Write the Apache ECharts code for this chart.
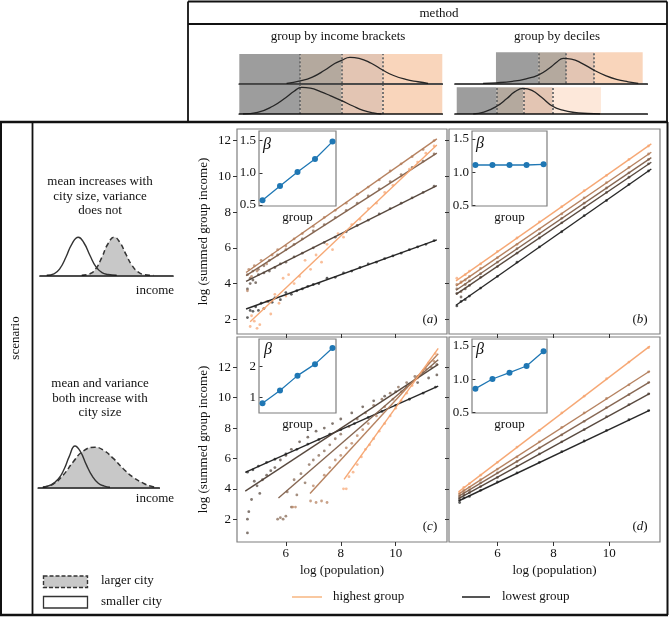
<!DOCTYPE html>
<html><head><meta charset="utf-8">
<script src="https://cdn.jsdelivr.net/npm/echarts@6/dist/echarts.min.js"></script>
<style>html,body{margin:0;padding:0;background:#fff}#c{width:669px;height:617px}</style>
</head><body><div id="c"></div><script>
const FONT = 'Liberation Serif';
const groupColors = ['#1c1c1c','#4f3f35','#7f5f4a','#b27b57','#f6a36e'];
const groupLabels = ['highest group','lowest group'];

// ---- header illustration data ----
const bracketEdges = [0, 3.0, 5.04, 7.06, 10];
const bracketDotted = [3.0, 5.04, 7.06];
const decileTopEdges = [2.13, 4.33, 5.77, 7.24, 9.76];
const decileTopDotted = [4.33, 5.77, 7.24];
const decileBotEdges = [0.09, 2.17, 3.55, 5.08, 7.59];
const decileBotDotted = [2.17, 3.55, 5.08];
const bandColors = ['#9d9d9d','#b4a99e','#e3c5b3','#f9d5bb'];
const bandColorsLight = ['#9d9d9d','#b4a99e','#e3c5b3','#fde8da'];
const bracketLarge = [[2.33,0],[3.0,0.09],[3.6,0.24],[4.2,0.5],[4.7,0.76],[5.04,0.88],[5.45,1.0],[5.9,0.96],[6.5,0.77],[7.06,0.51],[7.6,0.3],[8.2,0.15],[8.8,0.06],[9.3,0]];
const bracketSmall = [[0.18,0],[0.9,0.06],[1.67,0.3],[2.3,0.62],[2.7,0.85],[3.07,1.0],[3.5,0.97],[4.0,0.84],[4.5,0.68],[5.04,0.5],[5.6,0.3],[6.1,0.14],[6.6,0.04],[7.0,0]];
const decileLarge = [[1.46,0],[2.13,0.02],[3.0,0.08],[3.7,0.18],[4.33,0.33],[4.9,0.6],[5.3,0.85],[5.63,1.0],[6.05,0.97],[6.6,0.8],[7.24,0.52],[7.8,0.32],[8.4,0.16],[9.0,0.06],[9.53,0]];
const decileSmall = [[0.95,0],[1.5,0.07],[2.17,0.3],[2.7,0.6],[3.1,0.86],[3.55,1.0],[4.0,0.92],[4.5,0.65],[5.08,0.3],[5.6,0.15],[6.2,0.06],[6.9,0.02],[7.54,0]];

// ---- scenario illustration data ----
const sc1Small = [[6.7,0],[14,0.04],[20,0.18],[26,0.48],[32,0.83],[38.3,1.0],[44,0.85],[50,0.52],[56,0.22],[62,0.07],[68,0.02],[76.7,0]];
const sc1Large = [[41.7,0],[50,0.04],[56,0.18],[62,0.48],[68,0.83],[74.3,1.0],[80,0.86],[86,0.55],[92,0.26],[98,0.09],[104,0.02],[113.3,0]];
const sc2Small = [[4.4,0],[12,0.05],[20,0.2],[26,0.45],[31,0.75],[36.7,1.0],[42,0.87],[48,0.55],[54,0.27],[60,0.1],[66,0.03],[71.7,0]];
const sc2Large = [[4.7,0],[15,0.08],[25,0.3],[35,0.62],[45,0.88],[56.7,0.97],[65,0.9],[75,0.7],[85,0.45],[95,0.24],[105,0.1],[112,0.03],[118.4,0]];

// ---- tick labels ----
const xTicks = [6, 8, 10];
const yTicks = [2, 4, 6, 8, 10, 12];

// ---- scaling exponents (insets) ----
const betaA = [0.573, 0.795, 1.013, 1.215, 1.485];
const betaB = [1.11, 1.11, 1.11, 1.11, 1.12];
const betaC = [0.82, 1.23, 1.71, 2.08, 2.6];
const betaD = [0.86, 1.005, 1.10, 1.20, 1.42];

// ---- fitted lines per group (panel a..d) ----
const fitA = [[[4.55,2.58],[11.5,6.45]],[[4.55,4.13],[11.5,9.48]],[[4.55,4.45],[11.5,11.3]],[[4.55,4.62],[11.5,12.1]],[[4.7,1.87],[11.5,11.75]]];
const fitB = [[[4.52,2.79],[11.5,10.41]],[[4.52,3.4],[11.5,10.79]],[[4.52,3.63],[11.5,11.05]],[[4.52,3.87],[11.5,11.35]],[[4.52,4.15],[11.5,11.82]]];
const fitC = [[[4.52,5.08],[11.55,10.77]],[[4.52,3.85],[11.55,12.2]],[[5.73,3.4],[11.55,12.5]],[[6.88,3.69],[11.55,12.9]],[[8.12,4.62],[11.55,13.25]]];
const fitD = [[[4.61,3.2],[11.45,9.19]],[[4.61,3.36],[11.45,10.29]],[[4.61,3.5],[11.45,11.05]],[[4.61,3.65],[11.45,11.76]],[[4.61,3.8],[11.45,13.4]]];

// ---- city points per group ----
const ptsA1 = [[4.6,2.1],[4.7,2.5],[4.8,2.45],[4.9,2.7],[5.0,2.5],[5.1,2.9],[5.2,2.6],[5.35,3.0],[5.5,2.95],[5.6,3.2],[5.8,3.1],[6.0,3.5],[6.2,3.4],[6.4,3.6],[6.6,3.7],[6.8,3.85],[7.0,3.95],[7.2,4.0],[7.5,4.3],[7.8,4.35],[8.1,4.6],[8.4,4.7],[8.7,4.9],[9.0,5.1],[9.3,5.2],[9.6,5.4],[9.9,5.55],[10.2,5.7],[10.5,5.9],[10.8,6.05],[11.1,6.2],[11.4,6.4]];
const ptsA2 = [[4.6,3.7],[4.7,4.0],[4.8,4.2],[4.9,4.05],[5.0,4.5],[5.2,4.6],[5.4,4.7],[5.6,4.9],[5.8,5.1],[6.0,5.2],[6.3,5.5],[6.6,5.7],[7.0,6.0],[7.4,6.3],[7.8,6.6],[8.2,6.9],[8.6,7.25],[9.0,7.55],[9.4,7.9],[9.8,8.2],[10.2,8.5],[10.6,8.8],[11.0,9.1],[11.4,9.45]];
const ptsA3 = [[4.6,4.5],[4.7,4.3],[4.8,4.7],[5.0,4.8],[5.2,5.0],[5.4,5.3],[5.7,5.6],[6.0,5.9],[6.3,6.2],[6.6,6.5],[7.0,6.95],[7.4,7.3],[7.8,7.7],[8.2,8.1],[8.6,8.5],[9.0,8.9],[9.4,9.3],[9.8,9.7],[10.2,10.1],[10.6,10.5],[11.0,10.85],[11.4,11.25]];
const ptsA4 = [[4.6,3.6],[4.65,4.8],[4.75,4.4],[4.85,5.0],[4.95,4.7],[5.1,5.3],[5.3,5.1],[5.5,5.6],[5.7,5.9],[6.0,6.1],[6.3,6.5],[6.6,6.8],[7.0,7.2],[7.4,7.7],[7.8,8.1],[8.2,8.5],[8.6,9.0],[9.0,9.4],[9.4,9.8],[9.8,10.3],[10.2,10.7],[10.6,11.1],[11.0,11.5],[11.4,12.0]];
const ptsA5 = [[4.7,1.6],[4.75,2.2],[4.85,1.9],[4.95,1.5],[5.05,1.7],[5.2,2.6],[5.3,3.0],[5.45,2.3],[5.6,3.4],[5.75,2.9],[5.9,4.3],[6.0,3.3],[6.1,4.5],[6.3,4.0],[6.5,4.4],[6.7,5.3],[6.9,4.8],[7.1,5.6],[7.3,5.2],[7.5,6.2],[7.7,5.9],[7.9,6.8],[8.1,6.6],[8.4,7.3],[8.7,7.6],[9.0,8.2],[9.3,8.5],[9.6,9.1],[9.9,9.5],[10.2,10.0],[10.5,10.4],[10.8,10.8],[11.1,11.3],[11.4,11.7]];
const ptsB1 = [[4.55,2.75],[4.7,3.0],[4.85,3.1],[5.0,3.3],[5.4,3.75],[6.0,4.4],[6.7,5.2],[7.5,6.05],[8.3,6.9],[9.1,7.8],[9.9,8.65],[10.7,9.55],[11.4,10.3]];
const ptsB2 = [[4.55,3.45],[4.7,3.25],[4.85,3.7],[5.0,3.9],[5.4,4.35],[6.0,4.95],[6.7,5.7],[7.5,6.55],[8.3,7.4],[9.1,8.25],[9.9,9.1],[10.7,9.95],[11.4,10.7]];
const ptsB3 = [[4.55,3.7],[4.7,3.55],[4.85,3.95],[5.0,4.15],[5.4,4.55],[6.0,5.2],[6.7,5.95],[7.5,6.8],[8.3,7.65],[9.1,8.5],[9.9,9.35],[10.7,10.2],[11.4,10.95]];
const ptsB4 = [[4.55,3.95],[4.7,4.1],[4.85,4.2],[5.0,4.4],[5.4,4.85],[6.0,5.45],[6.7,6.2],[7.5,7.05],[8.3,7.9],[9.1,8.8],[9.9,9.65],[10.7,10.5],[11.4,11.25]];
const ptsB5 = [[4.55,4.3],[4.7,4.05],[4.85,4.5],[5.0,4.7],[5.4,5.1],[6.0,5.8],[6.7,6.55],[7.5,7.45],[8.3,8.3],[9.1,9.2],[9.9,10.05],[10.7,10.95],[11.4,11.7]];
const ptsC1 = [[4.6,5.1],[4.8,5.25],[5.0,5.5],[5.3,5.75],[5.6,5.95],[6.0,6.3],[6.4,6.6],[6.8,6.95],[7.2,7.25],[7.6,7.6],[8.0,7.9],[8.5,8.3],[9.0,8.7],[9.5,9.1],[10.0,9.5],[10.5,9.9],[11.0,10.3],[11.45,10.7]];
const ptsC2 = [[4.6,2.0],[4.6,1.1],[4.65,2.5],[4.75,3.3],[4.85,4.5],[4.95,4.2],[5.05,3.7],[5.15,4.6],[5.3,4.9],[5.45,5.2],[5.6,5.4],[5.8,5.9],[6.0,6.2],[6.2,6.6],[6.5,7.1],[6.8,7.4],[7.1,7.8],[7.4,8.0],[7.7,8.3],[8.0,8.6],[8.4,9.0],[8.8,9.4],[9.2,9.8],[9.6,10.1],[10.0,10.4],[10.4,10.7],[10.8,11.0],[11.2,11.3],[11.5,11.5]];
const ptsC3 = [[5.7,2.0],[5.8,2.1],[5.9,2.0],[6.0,2.2],[6.05,3.8],[6.2,2.8],[6.3,4.6],[6.4,3.6],[6.55,5.0],[6.7,4.4],[6.85,5.6],[7.0,5.9],[7.2,6.2],[7.4,6.5],[7.6,6.9],[7.8,7.3],[8.0,7.6],[8.3,8.1],[8.6,8.6],[8.9,9.0],[9.2,9.5],[9.5,9.9],[9.8,10.3],[10.1,10.7],[10.4,11.0],[10.7,11.4],[11.0,11.7],[11.3,12.0],[11.5,12.2]];
const ptsC4 = [[6.25,2.8],[6.35,2.8],[6.9,3.2],[7.0,4.2],[7.1,3.1],[7.3,3.2],[7.4,4.9],[7.5,3.1],[7.6,5.4],[7.8,5.9],[8.0,6.2],[8.2,6.7],[8.4,7.0],[8.6,7.5],[8.8,7.9],[9.0,8.3],[9.3,8.8],[9.6,9.4],[9.9,9.9],[10.2,10.4],[10.5,10.9],[10.8,11.4],[11.1,11.9],[11.4,12.4]];
const ptsC5 = [[8.1,4.0],[8.2,4.0],[8.3,4.8],[8.45,5.1],[8.6,5.6],[8.75,6.1],[8.9,6.6],[9.05,6.9],[9.2,7.3],[9.4,7.8],[9.6,8.3],[9.8,8.8],[10.0,9.3],[10.2,9.8],[10.4,10.3],[10.6,10.8],[10.8,11.3],[11.0,11.8],[11.2,12.3],[11.45,12.9]];
const ptsD1 = [[4.65,3.1],[4.8,3.4],[5.0,3.5],[5.4,3.9],[6.0,4.45],[6.7,5.05],[7.5,5.75],[8.3,6.45],[9.1,7.15],[9.9,7.85],[10.7,8.55],[11.4,9.15]];
const ptsD2 = [[4.65,3.3],[4.8,3.6],[5.0,3.75],[5.4,4.15],[6.0,4.75],[6.7,5.5],[7.5,6.3],[8.3,7.1],[9.1,7.9],[9.9,8.75],[10.7,9.55],[11.4,10.25]];
const ptsD3 = [[4.65,3.45],[4.8,3.75],[5.0,3.9],[5.4,4.4],[6.0,5.05],[6.7,5.8],[7.5,6.7],[8.3,7.55],[9.1,8.45],[9.9,9.35],[10.7,10.2],[11.4,11.0]];
const ptsD4 = [[4.65,3.6],[4.8,3.9],[5.0,4.1],[5.4,4.6],[6.0,5.3],[6.7,6.1],[7.5,7.1],[8.3,8.05],[9.1,9.0],[9.9,9.95],[10.7,10.85],[11.4,11.7]];
const ptsD5 = [[4.65,3.75],[4.8,4.1],[5.0,4.35],[5.4,4.9],[6.0,5.75],[6.7,6.75],[7.5,7.85],[8.3,9.0],[9.1,10.1],[9.9,11.25],[10.7,12.35],[11.4,13.3]];

// ================= build =================
const grids = [], xAxes = [], yAxes = [], series = [], graphics = [];
function addGrid(g, xa, ya) {
  grids.push(g); const gi = grids.length - 1;
  xa.gridIndex = gi; ya.gridIndex = gi; xAxes.push(xa); yAxes.push(ya); return gi;
}
function hiddenAxis(min, max, baseline) {
  return {type:'value', min, max, z: 10,
    axisLine:{show: !!baseline, onZero:false, lineStyle:{color:'#111', width:1.7}},
    axisTick:{show:false}, axisLabel:{show:false}, splitLine:{show:false}};
}
function strip(left, top, width, height, ymax, edges, colors, dotted, curve) {
  const gi = addGrid({left, top, width, height}, hiddenAxis(0, 10, true), hiddenAxis(0, ymax, false));
  series.push({type:'line', xAxisIndex:gi, yAxisIndex:gi, data:curve, smooth:0.5, symbol:'none', silent:true,
    lineStyle:{color:'#262626', width:1.3}, z:5,
    markArea:{silent:true, data: colors.map((c,i)=>[{xAxis:edges[i], itemStyle:{color:c, opacity:1}}, {xAxis:edges[i+1]}])},
    markLine:{silent:true, symbol:['none','none'], label:{show:false}, animation:false,
      lineStyle:{type:[2,2], color:'#6a6a6a', width:1.8}, data: dotted.map(v=>({xAxis:v}))}
  });
}
strip(239.3, 54, 203, 29.3, 1.127, bracketEdges, bandColors, bracketDotted, bracketLarge);
strip(239.3, 85, 203, 29, 1.086, bracketEdges, bandColors, bracketDotted, bracketSmall);
strip(455, 52.3, 192.3, 31, 1.24, decileTopEdges, bandColors, decileTopDotted, decileLarge);
strip(455, 87.3, 192.3, 26.7, 1.04, decileBotEdges, bandColorsLight, decileBotDotted, decileSmall);

function scenario(left, top, width, height, large, small) {
  const gi = addGrid({left, top, width, height}, hiddenAxis(0, width, true), hiddenAxis(0, 1.1, false));
  series.push({type:'line', xAxisIndex:gi, yAxisIndex:gi, data:large, smooth:0.5, symbol:'none', silent:true, z:4,
    lineStyle:{color:'#333', width:1.5, type:[5,3]}, areaStyle:{color:'#c8c8c8', opacity:1}});
  series.push({type:'line', xAxisIndex:gi, yAxisIndex:gi, data:small, smooth:0.5, symbol:'none', silent:true, z:5,
    lineStyle:{color:'#333', width:1.4}});
}
scenario(40, 233.5, 133, 41.8, sc1Large, sc1Small);
scenario(38.3, 441.9, 121, 45.4, sc2Large, sc2Small);

const txt = {fontFamily: FONT, fontSize: 13, color: '#111'};
function panel(left, top, width, height, xr, yr, showX, showY, fits, pts) {
  const xa = {type:'value', min:xr[0], max:xr[1], axisLine:{show:false}, splitLine:{show:false},
    axisTick:{show:true, customValues:xTicks, length:4, lineStyle:{color:'#333'}},
    axisLabel:Object.assign({show:showX, customValues:xTicks, margin:5}, txt),
    name: showX ? 'log (population)' : '', nameLocation:'middle', nameGap:22, nameTextStyle:txt};
  const ya = {type:'value', min:yr[0], max:yr[1], axisLine:{show:false}, splitLine:{show:false},
    axisTick:{show:true, customValues:yTicks, length:4, lineStyle:{color:'#333'}},
    axisLabel:Object.assign({show:showY, customValues:yTicks, margin:6}, txt),
    name: showY ? 'log (summed group income)' : '', nameLocation:'middle', nameGap:27, nameTextStyle:txt};
  const gi = addGrid({left, top, width, height, show:true, borderColor:'#7f7f7f', borderWidth:1.2, backgroundColor:'transparent'}, xa, ya);
  pts.forEach((p, k) => series.push({type:'scatter', xAxisIndex:gi, yAxisIndex:gi, data:p, symbolSize:2.8, silent:true, z:3,
    itemStyle:{color:groupColors[k], opacity:0.7}}));
  fits.forEach((f, k) => series.push({type:'line', xAxisIndex:gi, yAxisIndex:gi, data:f, symbol:'none', silent:true, z:4,
    lineStyle:{color:groupColors[k], width:1.4, opacity:0.95}}));
}
panel(237, 129, 210, 205, [4.22, 11.87], [1.18, 12.65], false, true, fitA, [ptsA1,ptsA2,ptsA3,ptsA4,ptsA5]);
panel(449, 129, 211, 205, [4.27, 11.81], [1.18, 12.65], false, false, fitB, [ptsB1,ptsB2,ptsB3,ptsB4,ptsB5]);
panel(237, 337, 210, 205, [4.22, 11.87], [0.5, 14.0], true, true, fitC, [ptsC1,ptsC2,ptsC3,ptsC4,ptsC5]);
panel(449, 337, 211, 205, [4.27, 11.81], [0.5, 14.0], true, false, fitD, [ptsD1,ptsD2,ptsD3,ptsD4,ptsD5]);

function inset(left, top, width, height, yr, ticks, fmt, betas) {
  const xa = {type:'value', min:-0.2, max:4.2, axisLine:{show:false}, axisTick:{show:false}, axisLabel:{show:false}, splitLine:{show:false},
    name:'group', nameLocation:'middle', nameGap:5, nameTextStyle:txt, z:20};
  const ya = {type:'value', min:yr[0], max:yr[1], axisLine:{show:false}, splitLine:{show:false}, z:20,
    axisTick:{show:true, customValues:ticks, length:3, lineStyle:{color:'#333'}},
    axisLabel:Object.assign({customValues:ticks, margin:3, formatter:fmt}, txt)};
  const gi = addGrid({left, top, width, height, show:true, backgroundColor:'#fff', borderColor:'#7f7f7f', borderWidth:1.2, z:15}, xa, ya);
  series.push({type:'line', xAxisIndex:gi, yAxisIndex:gi, data:betas.map((b,i)=>[i,b]), symbol:'circle', symbolSize:6, silent:true, z:21,
    lineStyle:{color:'#1f77b4', width:1.3}, itemStyle:{color:'#1f77b4'}});
}
const f1 = v => Number(v).toFixed(1);
const f0 = v => String(Math.round(v));
inset(259, 131, 77, 75, [0.484, 1.65], [0.5, 1.0, 1.5], f1, betaA);
inset(472, 131, 75, 75, [0.495, 1.62], [0.5, 1.0, 1.5], f1, betaB);
inset(259, 339, 77, 74, [0.506, 2.89], [1, 2], f0, betaC);
inset(472, 339, 75, 74, [0.495, 1.605], [0.5, 1.0, 1.5], f1, betaD);

// ---- frame lines & text ----
function L(x1,y1,x2,y2,w,c){graphics.push({type:'line', silent:true, z:100, shape:{x1,y1,x2,y2}, style:{stroke:c||'#111', lineWidth:w||1.5}});}
function T(text,x,y,extra,rot){graphics.push({type:'text', silent:true, z:100, x, y, rotation:rot||0,
  style:Object.assign({text, x:0, y:0, fill:'#111', fontFamily:FONT, fontSize:13, textAlign:'center', textVerticalAlign:'middle', align:'center', verticalAlign:'middle'}, extra||{})});}
L(188, 1.5, 667, 1.5, 1.8); L(188, 24, 667, 24, 1.8);
L(188, 1.5, 188, 122, 1.8); L(667, 1.5, 667, 122, 1.8);
L(0, 122, 668, 122, 2.5);
L(1, 122, 1, 615, 2); L(32.5, 122, 32.5, 615, 1.8); L(667.5, 122, 667.5, 615, 2);
L(0, 615, 668, 615, 2.5);

T('method', 439, 14);
T('group by income brackets', 338, 37);
T('group by deciles', 557, 37);
T('scenario', 16, 338, {}, Math.PI/2);
T('mean increases with', 100, 182); T('city size, variance', 100, 196.5); T('does not', 100, 211);
T('income', 155, 291);
T('mean and variance', 100, 384); T('both increase with', 100, 398.5); T('city size', 100, 413);
T('income', 155, 498.5);
graphics.push({type:'rect', silent:true, z:100, shape:{x:43.5, y:576, width:44, height:11.5}, style:{fill:'#c8c8c8', stroke:'#333', lineWidth:1.4, lineDash:[4,2]}});
graphics.push({type:'rect', silent:true, z:100, shape:{x:43.5, y:596.5, width:44, height:11.5}, style:{fill:'#fff', stroke:'#333', lineWidth:1.3}});
T('larger city', 101, 581, {textAlign:'left', align:'left'});
T('smaller city', 101, 601.5, {textAlign:'left', align:'left'});

const betaPos = [[267, 145],[480, 144],[268, 350],[480, 350]];
betaPos.forEach(p => T('β', p[0], p[1], {fontStyle:'italic', fontSize:16}));
const panelLab = [['a',430,320],['b',640,320],['c',430,527],['d',640,527]];
panelLab.forEach(p => T('({i|' + p[0] + '})', p[1], p[2], {rich:{i:{fontStyle:'italic', fontFamily:FONT, fontSize:13}}}));

L(292, 597, 322, 597, 2, '#f9c8a0'); T(groupLabels[0], 333, 597, {textAlign:'left', align:'left'});
L(462, 597, 490, 597, 2, '#555'); T(groupLabels[1], 502, 597, {textAlign:'left', align:'left'});

const chart = echarts.init(document.getElementById('c'), null, {renderer:'canvas'});
chart.setOption({animation:false, backgroundColor:'#fff', grid:grids, xAxis:xAxes, yAxis:yAxes, series, graphic:graphics});
</script></body></html>
